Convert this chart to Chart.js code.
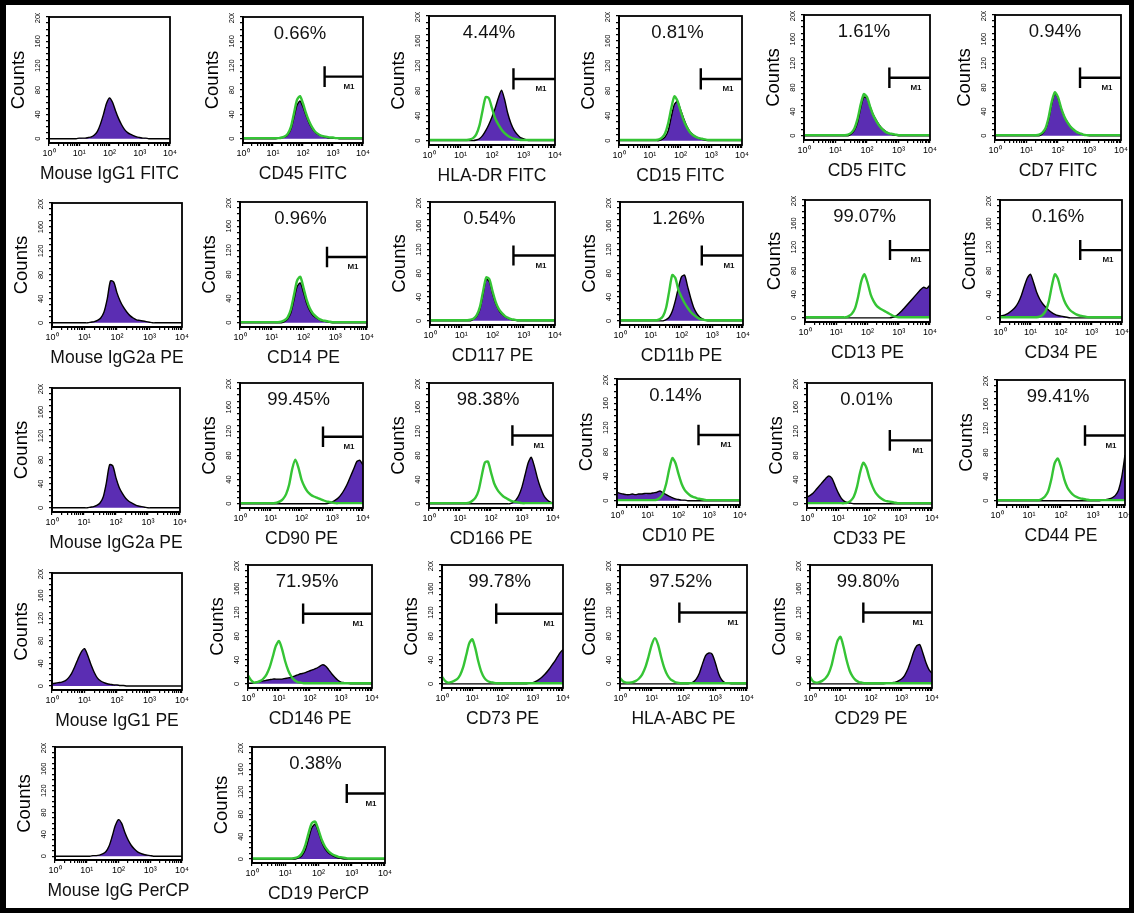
<!DOCTYPE html>
<html>
<head>
<meta charset="utf-8">
<script src="https://cdn.jsdelivr.net/npm/chart.js@4.4.1/dist/chart.umd.min.js"></script>
<style>
  body { margin: 0; background: #fff; }
  #frame { position: absolute; left: 0; top: 0; width: 1134px; height: 913px; box-sizing: border-box;
           border: 5px solid #000; border-left-width: 6px; }
  canvas { position: absolute; }
</style>
</head>
<body>
<div id="frame"></div>
<script>
// fluorescence channels, 10 per decade from 10^0 to 10^4
const bins = [1, 1.26, 1.58, 2, 2.51, 3.16, 3.98, 5.01, 6.31, 7.94,
  10, 12.6, 15.8, 20, 25.1, 31.6, 39.8, 50.1, 63.1, 79.4,
  100, 126, 158, 200, 251, 316, 398, 501, 631, 794,
  1000, 1259, 1585, 1995, 2512, 3162, 3981, 5012, 6310, 7943, 10000];

// counts per channel: antibody (purple) and isotype control (green)
const igg1Fitc = [0,0,0,0,0,0,0,0,0,0, 1,1,1,2,3,6,12,24,40,58, 67,60,46,33,23,15,10,7,5,3, 2,1,1,0,0,0,0,0,0,0,0];
const cd45 = [0,0,0,0,0,0,0,0,0,0, 0,0,1,2,3,7,16,35,55,62, 52,38,26,17,11,7,5,3,2,1, 1,1,0,0,0,0,0,0,0,0,0];
const cd45Iso = [1,1,1,1,1,1,1,1,1,1, 1,1,1,2,4,9,20,42,64,70, 58,42,29,19,12,8,5,4,3,2, 2,1,1,1,1,1,1,1,1,1,1];
const hlaDr = [0,0,0,0,0,0,0,0,0,0, 0,0,0,0,0,1,3,8,16,26, 38,52,68,81,66,44,28,17,10,5, 3,1,0,0,0,0,0,0,0,0,0];
const hlaDrIso = [1,1,1,1,1,1,1,1,1,1, 1,1,1,2,4,10,24,48,70,68, 52,36,26,18,12,8,5,3,2,1, 1,1,1,1,1,1,1,1,1,1,1];
const cd15 = [0,0,0,0,0,0,0,0,0,0, 0,0,0,0,2,6,16,38,58,63, 50,36,24,15,10,6,4,2,1,0, 0,0,0,0,0,0,0,0,0,0,0];
const cd15Iso = [1,1,1,1,1,1,1,1,1,1, 1,1,1,2,5,12,28,52,71,64, 48,33,22,14,9,6,4,3,2,1, 1,1,1,1,1,1,1,1,1,1,1];
const cd5 = [0,0,0,0,0,0,0,0,0,0, 0,0,0,0,0,3,9,22,46,64, 62,48,35,25,17,11,7,4,2,1, 0,0,0,0,0,0,0,0,0,0,0];
const cd5Iso = [1,1,1,1,1,1,1,1,1,1, 1,1,1,1,2,5,12,28,52,69, 64,48,34,24,16,10,6,4,3,2, 1,1,1,1,1,1,1,1,1,1,1];
const cd7 = [0,0,0,0,0,0,0,0,0,0, 0,0,0,0,0,3,10,26,52,70, 62,45,32,22,15,9,6,3,2,1, 0,0,0,0,0,0,0,0,0,0,0];
const cd7Iso = [1,1,1,1,1,1,1,1,1,1, 1,1,1,1,2,5,12,30,56,72, 64,46,32,22,15,10,6,4,2,1, 1,1,1,1,1,1,1,1,1,1,1];

const igg2aPe = [0,0,0,0,0,0,0,0,0,0, 0,0,1,2,4,8,18,40,70,68, 50,36,26,18,12,8,5,4,3,2, 1,0,0,0,0,0,0,0,0,0,0];
const cd14 = [0,0,0,0,0,0,0,0,0,0, 0,0,0,0,2,6,16,38,60,66, 50,32,20,12,8,5,3,2,1,0, 0,0,0,0,0,0,0,0,0,0,0];
const cd14Iso = [1,1,1,1,1,1,1,1,1,1, 1,1,1,2,4,9,22,46,70,76, 58,38,24,15,10,6,4,3,2,1, 1,1,1,1,1,1,1,1,1,1,1];
const cd117 = [0,0,0,0,0,0,0,0,0,0, 0,0,0,0,3,8,20,45,70,66, 46,29,18,11,7,4,2,1,0,0, 0,0,0,0,0,0,0,0,0,0,0];
const cd117Iso = [1,1,1,1,1,1,1,1,1,1, 1,1,1,2,4,10,24,50,73,70, 50,32,20,13,8,5,3,2,1,1, 1,1,1,1,1,1,1,1,1,1,1];
const cd11b = [0,0,0,0,0,0,0,0,0,0, 0,0,0,0,0,2,6,16,34,56, 74,77,58,38,22,12,6,3,1,0, 0,0,0,0,0,0,0,0,0,0,0];
const cd11bIso = [1,1,1,1,1,1,1,1,1,1, 1,1,1,3,8,22,50,77,72,52, 40,30,22,15,10,6,3,2,1,1, 1,1,1,1,1,1,1,1,1,1,1];
const cd13 = [0,0,0,0,0,0,0,0,0,0, 0,0,0,0,0,0,0,0,0,0, 0,0,0,0,0,0,0,0,1,3, 7,12,18,24,30,36,42,48,52,50,56];
const cd13Iso = [1,1,1,1,1,1,1,1,1,1, 1,1,1,1,3,7,16,36,62,74, 60,40,28,20,16,13,10,7,4,2, 1,1,1,1,1,1,1,1,1,1,1];
const cd34 = [3,4,6,9,13,18,26,38,54,68, 74,60,44,32,24,18,13,9,6,4, 3,2,1,0,0,0,0,0,0,0, 0,0,0,0,0,0,0,0,0,0,0];
const cd34Iso = [1,1,1,1,1,1,1,1,1,1, 1,1,1,2,5,12,28,54,74,66, 46,30,20,13,9,6,4,3,2,1, 1,1,1,1,1,1,1,1,1,1,1];

const igg2aPeB = [0,0,0,0,0,0,0,0,0,0, 0,0,1,2,4,8,18,42,72,70, 50,34,24,16,11,8,5,3,2,1, 0,0,0,0,0,0,0,0,0,0,0];
const cd90 = [0,0,0,0,0,0,0,0,0,0, 0,0,0,0,0,0,0,0,0,0, 0,0,0,0,0,0,0,0,0,1, 3,6,10,16,24,34,46,58,70,72,64];
const cd90Iso = [1,1,1,1,1,1,1,1,1,1, 1,1,2,4,8,16,32,58,73,60, 40,28,20,15,12,10,8,6,4,3, 2,1,1,1,1,1,1,1,1,1,1];
const cd166 = [0,0,0,0,0,0,0,0,0,0, 0,0,0,0,0,0,0,0,0,0, 0,0,0,0,0,0,0,2,6,14, 28,48,68,77,62,42,26,14,7,3,1];
const cd166Iso = [1,1,1,1,1,1,1,1,1,1, 1,1,1,2,5,10,22,46,68,70, 52,34,24,17,12,9,6,4,3,2, 1,1,1,1,1,1,1,1,1,1,1];
const cd10 = [14,12,11,10,10,11,10,11,11,12, 12,12,13,14,16,13,10,7,5,3, 2,1,1,0,0,0,0,0,0,0, 0,0,0,0,0,0,0,0,0,0,0];
const cd10Iso = [1,1,1,1,1,1,1,1,1,1, 1,1,1,2,5,12,28,52,70,62, 44,28,18,12,8,6,4,3,2,1, 1,1,1,1,1,1,1,1,1,1,1];
const cd33 = [11,14,18,24,30,36,42,46,42,30, 18,9,4,2,1,0,0,0,0,0, 0,0,0,0,0,0,0,0,0,0, 0,0,0,0,0,0,0,0,0,0,0];
const cd33Iso = [1,1,1,1,1,1,1,1,1,1, 1,1,1,2,5,12,28,52,68,60, 42,28,18,12,8,5,4,3,2,1, 1,1,1,1,1,1,1,1,1,1,1];
const cd44 = [0,0,0,0,0,0,0,0,0,0, 0,0,0,0,0,0,0,0,0,0, 0,0,0,0,0,0,0,0,0,0, 0,0,0,1,2,3,5,9,18,40,76];
const cd44Iso = [1,1,1,1,1,1,1,1,1,1, 1,1,1,1,3,7,16,36,62,70, 56,36,22,14,9,6,4,3,2,1, 1,1,1,1,1,1,1,1,1,1,1];

const igg1Pe = [4,5,6,7,9,14,22,34,48,60, 66,54,38,24,14,9,6,4,3,2, 2,1,1,0,0,0,0,0,0,0, 0,0,0,0,0,0,0,0,0,0,0];
const cd146 = [1,1,2,3,4,5,6,7,8,8, 8,8,9,10,11,13,15,17,18,20, 22,24,26,29,32,30,24,17,11,6, 3,2,1,0,0,0,0,0,0,0,0];
const cd146Iso = [14,6,2,3,5,9,16,28,46,64, 72,58,38,22,12,6,3,2,1,1, 1,1,1,1,1,1,1,1,1,1, 1,1,1,1,1,1,1,1,1,1,1];
const cd73 = [0,0,0,0,0,0,0,0,0,0, 0,0,0,0,0,0,0,0,0,0, 0,0,0,0,0,0,0,0,0,1, 2,4,7,11,16,22,29,36,44,52,58];
const cd73Iso = [12,5,2,3,5,8,15,28,48,68, 75,60,38,20,10,5,3,2,1,1, 1,1,1,1,1,1,1,1,1,1, 1,1,1,1,1,1,1,1,1,1,1];
const hlaAbc = [0,0,0,0,0,0,0,0,0,0, 0,0,0,0,0,0,0,0,0,0, 0,0,1,3,8,18,34,48,52,50, 36,18,7,2,1,0,0,0,0,0,0];
const hlaAbcIso = [10,4,2,2,3,5,9,16,28,46, 66,77,66,44,26,14,7,4,2,1, 1,1,1,1,1,1,1,1,1,1, 1,1,1,1,1,1,1,1,1,1,1];
const cd29 = [0,0,0,0,0,0,0,0,0,0, 0,0,0,0,0,0,0,0,0,0, 0,0,0,0,0,1,1,2,3,5, 8,14,24,38,54,64,66,52,36,24,18];
const cd29Iso = [12,4,2,3,5,9,16,30,52,72, 79,62,40,22,12,6,3,2,1,1, 1,1,1,1,1,1,1,1,1,1, 1,1,1,1,1,1,1,1,1,1,1];

const iggPercp = [0,0,0,0,0,0,0,0,0,0, 0,0,1,1,2,4,8,18,36,56, 67,60,44,30,20,13,8,5,3,2, 1,0,0,0,0,0,0,0,0,0,0];
const cd19 = [0,0,0,0,0,0,0,0,0,0, 0,0,0,0,2,6,16,36,56,62, 48,30,18,11,7,4,2,1,0,0, 0,0,0,0,0,0,0,0,0,0,0];
const cd19Iso = [1,1,1,1,1,1,1,1,1,1, 1,1,1,2,4,10,24,46,64,67, 52,34,22,14,9,6,4,3,2,1, 1,1,1,1,1,1,1,1,1,1,1];

const titles = ["Mouse IgG1 FITC", "CD45 FITC", "HLA-DR FITC", "CD15 FITC", "CD5 FITC", "CD7 FITC",
  "Mouse IgG2a PE", "CD14 PE", "CD117 PE", "CD11b PE", "CD13 PE", "CD34 PE",
  "Mouse IgG2a PE", "CD90 PE", "CD166 PE", "CD10 PE", "CD33 PE", "CD44 PE",
  "Mouse IgG1 PE", "CD146 PE", "CD73 PE", "HLA-ABC PE", "CD29 PE",
  "Mouse IgG PerCP", "CD19 PerCP"];
const percents = ["", "0.66%", "4.44%", "0.81%", "1.61%", "0.94%",
  "", "0.96%", "0.54%", "1.26%", "99.07%", "0.16%",
  "", "99.45%", "98.38%", "0.14%", "0.01%", "99.41%",
  "", "71.95%", "99.78%", "97.52%", "99.80%",
  "", "0.38%"];
const samples = [igg1Fitc, cd45, hlaDr, cd15, cd5, cd7,
  igg2aPe, cd14, cd117, cd11b, cd13, cd34,
  igg2aPeB, cd90, cd166, cd10, cd33, cd44,
  igg1Pe, cd146, cd73, hlaAbc, cd29,
  iggPercp, cd19];
const isotypes = [null, cd45Iso, hlaDrIso, cd15Iso, cd5Iso, cd7Iso,
  null, cd14Iso, cd117Iso, cd11bIso, cd13Iso, cd34Iso,
  null, cd90Iso, cd166Iso, cd10Iso, cd33Iso, cd44Iso,
  null, cd146Iso, cd73Iso, hlaAbcIso, cd29Iso,
  null, cd19Iso];
// M1 gate: start channel and the count level the marker is drawn at
const m1Start = [null, 525, 480, 457, 513, 500, null, 550, 468, 457, 525, 427,
  null, 500, 490, 447, 447, 562, null, 60, 62, 74, 56, null, 708];
const m1Level = [null, 102, 99, 99, 96, 96, null, 109, 110, 110, 115, 115,
  null, 111, 113, 108, 105, 108, null, 118, 118, 120, 120, null, 117];

const yTicks = [0, 10, 20, 30, 40, 50, 60, 70, 80, 90, 100, 110, 120, 130, 140, 150, 160, 170, 180, 190, 200];
const xTicks = [1, 2, 3, 4, 5, 6, 7, 8, 9, 10, 20, 30, 40, 50, 60, 70, 80, 90,
  100, 200, 300, 400, 500, 600, 700, 800, 900, 1000, 2000, 3000, 4000, 5000, 6000, 7000, 8000, 9000, 10000];
const supers = { 1: "10\u2070", 10: "10\u00b9", 100: "10\u00b2", 1000: "10\u00b3", 10000: "10\u2074" };

// plot box of each panel: left, top, right, bottom (page pixels)
const boxes = [
  [49, 17, 170, 143], [243, 17, 363, 143], [429, 16, 555, 145], [619, 16, 742, 145], [804, 15, 930, 140], [995, 15, 1121, 140],
  [52, 203, 182, 327], [240, 202, 367, 327], [430, 202, 555, 325], [620, 202, 743, 325], [805, 200, 930, 322], [1000, 200, 1122, 322],
  [52, 388, 180, 512], [240, 383, 363, 508], [429, 383, 553, 508], [617, 379, 740, 505], [807, 383, 932, 508], [997, 380, 1125, 505],
  [52, 573, 182, 690], [248, 565, 372, 688], [442, 565, 563, 688], [620, 565, 747, 688], [810, 565, 932, 688],
  [55, 747, 182, 860], [252, 747, 385, 863]
];

const FONT = '"Liberation Sans", Arial, Helvetica, sans-serif';
Chart.defaults.font.family = FONT;
Chart.defaults.color = "#000";

const panelText = {
  id: "panelText",
  afterDraw(chart, args, o) {
    const { ctx, chartArea: a } = chart;
    const cx = (a.left + a.right) / 2;
    ctx.save();
    ctx.strokeStyle = "#000";
    ctx.lineWidth = 1.8;
    ctx.strokeRect(a.left, a.top, a.right - a.left, a.bottom - a.top);
    ctx.fillStyle = "#111";
    ctx.textAlign = "center";
    ctx.textBaseline = "middle";
    ctx.font = "17.5px " + FONT;
    ctx.fillText(o.title, cx, a.bottom + 31);
    if (o.pct) {
      ctx.font = "18.5px " + FONT;
      ctx.fillText(o.pct, cx - 3, a.top + 17);
    }
    if (o.m1) {
      ctx.font = "bold 8px " + FONT;
      ctx.fillText("M1", a.right - 14, chart.scales.y.getPixelForValue(o.m1) + 10);
    }
    ctx.restore();
  }
};

const PAD_R = 8, PAD_T = 4, YW = 44, XH = 46;

boxes.forEach((b, i) => {
  const [L, T, R, B] = b;
  const cv = document.createElement("canvas");
  cv.width = YW + (R - L) + PAD_R;
  cv.height = PAD_T + (B - T) + XH;
  cv.style.left = (L - YW) + "px";
  cv.style.top = (T - PAD_T) + "px";
  document.body.appendChild(cv);

  const datasets = [];
  if (isotypes[i]) {
    datasets.push({
      data: bins.map((x, k) => ({ x: x, y: isotypes[i][k] })),
      borderColor: "#35c435", borderWidth: 2.4, fill: false, tension: 0.25, order: 0
    });
  }
  datasets.push({
    data: bins.map((x, k) => ({ x: x, y: samples[i][k] })),
    borderColor: "#000", borderWidth: 1.4, backgroundColor: "#5b2db3",
    fill: "origin", tension: 0.25, order: 1
  });
  if (m1Start[i]) {
    const s = m1Start[i], lv = m1Level[i];
    datasets.push({
      data: [{ x: s, y: lv + 17 }, { x: s, y: lv - 17 }, { x: s, y: lv }, { x: 10000, y: lv }],
      borderColor: "#000", borderWidth: 2.4, fill: false, tension: 0, order: 0
    });
  }

  new Chart(cv, {
    type: "line",
    data: { datasets: datasets },
    plugins: [panelText],
    options: {
      responsive: false,
      animation: false,
      events: [],
      elements: { point: { radius: 0 } },
      layout: { padding: { top: PAD_T, right: PAD_R, left: 0, bottom: 0 } },
      plugins: {
        legend: { display: false },
        tooltip: { enabled: false },
        panelText: { title: titles[i], pct: percents[i], m1: m1Level[i] }
      },
      scales: {
        x: {
          type: "logarithmic", min: 1, max: 10000,
          afterBuildTicks: (s) => { s.ticks = xTicks.map(v => ({ value: v })); },
          afterFit: (s) => { s.height = XH; s.paddingLeft = 0; s.paddingRight = 0; },
          ticks: { autoSkip: false, maxRotation: 0, padding: 2, font: { size: 9 },
                   callback: (v) => supers[v] || "" },
          grid: { drawOnChartArea: false, tickLength: 3, color: "#000", lineWidth: 1.2 },
          border: { color: "#000", width: 2 }
        },
        y: {
          min: -7, max: 200,
          afterBuildTicks: (s) => { s.ticks = yTicks.map(v => ({ value: v })); },
          afterFit: (s) => { s.width = YW; s.paddingTop = 0; s.paddingBottom = 0; },
          ticks: { autoSkip: false, minRotation: 90, maxRotation: 90, crossAlign: "center", padding: 2,
                   font: { size: 7.5 }, callback: (v) => (v % 40 === 0 ? String(v) : "") },
          grid: { drawOnChartArea: false, tickLength: 3, color: "#000", lineWidth: 1.2 },
          border: { color: "#000", width: 2 },
          title: { display: true, text: "Counts", font: { size: 18.5 }, padding: { top: 3, bottom: 0 } }
        }
      }
    }
  });
});
</script>
</body>
</html>
